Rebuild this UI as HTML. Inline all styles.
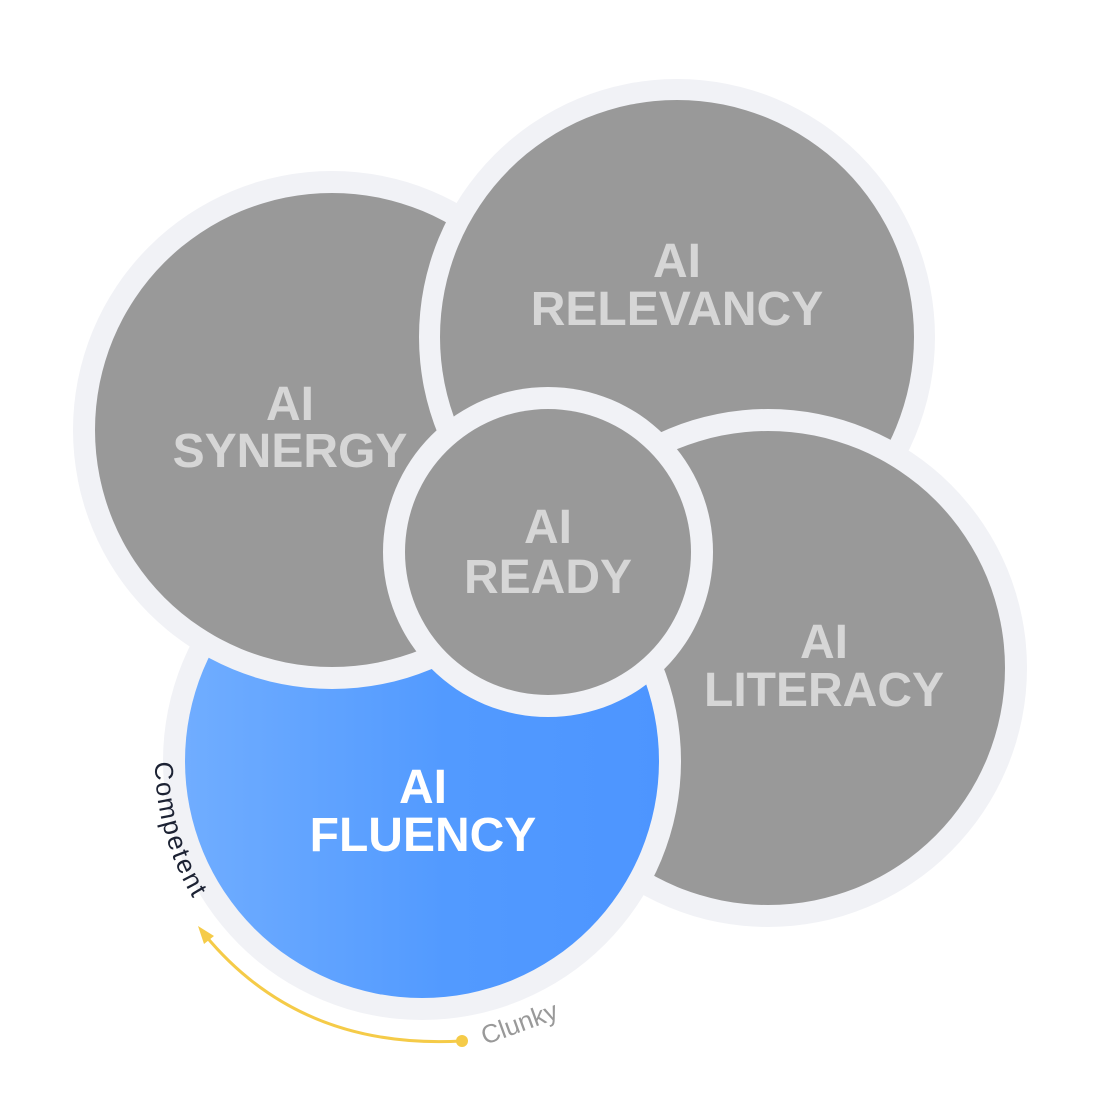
<!DOCTYPE html>
<html><head><style>html,body{margin:0;padding:0;background:#fff;}svg{display:block}</style></head>
<body>
<svg width="1100" height="1100" viewBox="0 0 1100 1100" xmlns="http://www.w3.org/2000/svg" font-family="Liberation Sans, Arial, sans-serif" font-weight="bold">
<defs>
<linearGradient id="g" gradientUnits="userSpaceOnUse" x1="185" y1="0" x2="659" y2="0">
<stop offset="0" stop-color="#70adff"/><stop offset="0.55" stop-color="#529aff"/><stop offset="1" stop-color="#4d95ff"/>
</linearGradient>
<clipPath id="cp"><rect x="0" y="480" width="520" height="280"/></clipPath>
</defs>
<circle cx="332" cy="430" r="259" fill="#f1f2f6"/>
<circle cx="332" cy="430" r="237" fill="#999"/>
<circle cx="677" cy="337" r="258" fill="#f1f2f6"/>
<circle cx="677" cy="337" r="237" fill="#999"/>
<circle cx="768" cy="668" r="259" fill="#f1f2f6"/>
<circle cx="768" cy="668" r="237" fill="#999"/>
<circle cx="422" cy="761" r="259" fill="#f1f2f6"/>
<circle cx="422" cy="761" r="237" fill="url(#g)"/>
<g clip-path="url(#cp)">
<circle cx="332" cy="430" r="259" fill="#f1f2f6"/>
<circle cx="332" cy="430" r="237" fill="#999"/>
</g>
<circle cx="548" cy="552" r="165" fill="#f1f2f6"/>
<circle cx="548" cy="552" r="143" fill="#999"/>
<g fill="#d6d6d6" font-size="48" text-anchor="middle">
<text x="677" y="277">AI</text><text x="677" y="325">RELEVANCY</text>
<text x="290" y="420">AI</text><text x="290" y="467">SYNERGY</text>
<text x="548" y="543">AI</text><text x="548" y="593">READY</text>
<text x="824" y="658">AI</text><text x="824" y="706">LITERACY</text>
</g>
<g fill="#fff" font-size="48" text-anchor="middle">
<text x="423" y="803">AI</text><text x="423" y="851">FLUENCY</text>
</g>
<path id="arc" d="M155,762 A267,267 0 0 0 290,993" fill="none"/>
<text font-size="26" fill="#1c2233" font-weight="normal" letter-spacing="2"><textPath href="#arc">Competent</textPath></text>
<path d="M462,1041 Q300,1050 205,935" fill="none" stroke="#f5cb48" stroke-width="3"/>
<polygon points="198,926 214,936 204,944" fill="#f5cb48"/>
<circle cx="462" cy="1041" r="6" fill="#f5cb48"/>
<text x="485" y="1045" font-size="26" fill="#999" font-weight="normal" transform="rotate(-20 485 1045)">Clunky</text>
</svg>
</body></html>
